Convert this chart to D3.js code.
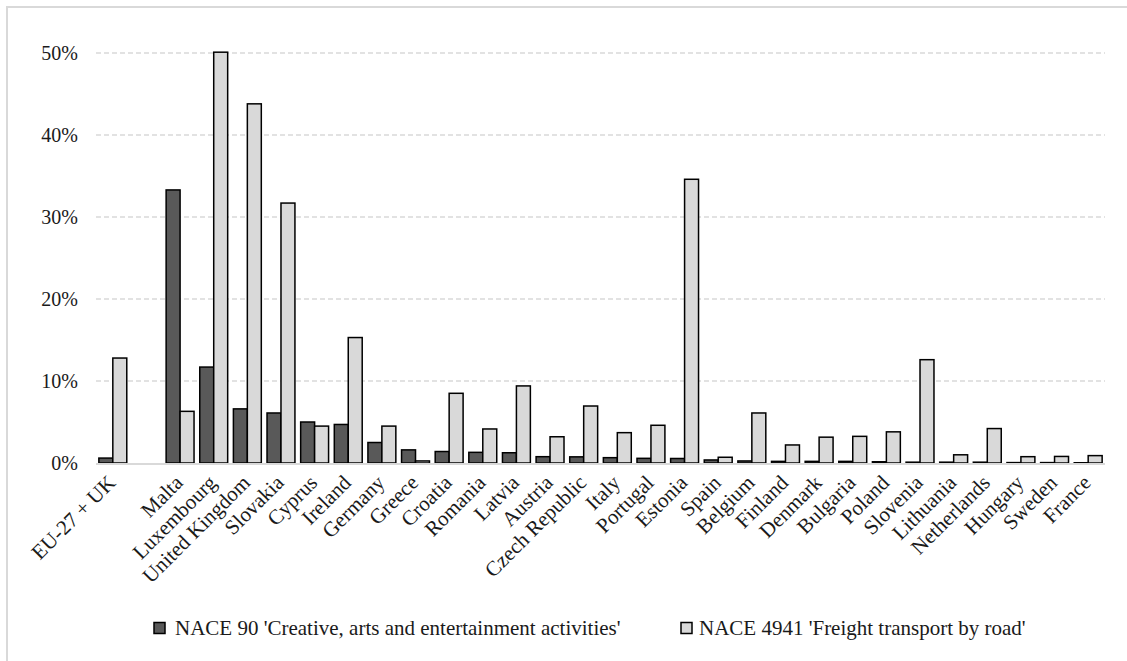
<!DOCTYPE html>
<html>
<head>
<meta charset="utf-8">
<script src="https://cdn.jsdelivr.net/npm/d3@7"></script>
<style>
  body { margin: 0; background: #fff; }
  svg text { font-family: "Liberation Serif", "DejaVu Serif", serif; fill: #1a1a1a; }
</style>
</head>
<body>
<svg id="chart" width="1127" height="661"></svg>
<script>
// categories in chart order ("" is the gap after the EU total)
const categories = ["EU-27 + UK", "", "Malta", "Luxembourg", "United Kingdom", "Slovakia", "Cyprus",
    "Ireland", "Germany", "Greece", "Croatia", "Romania", "Latvia", "Austria", "Czech Republic",
    "Italy", "Portugal", "Estonia", "Spain", "Belgium", "Finland", "Denmark", "Bulgaria", "Poland",
    "Slovenia", "Lithuania", "Netherlands", "Hungary", "Sweden", "France"];

const seriesNames = ["NACE 90 'Creative, arts and entertainment activities'",
    "NACE 4941 'Freight transport by road'"];

// shares, in percent
const creative = [0.6, null, 33.3, 11.7, 6.6, 6.1, 5.0, 4.7, 2.5, 1.6, 1.4, 1.3, 1.25, 0.77, 0.75,
    0.65, 0.57, 0.55, 0.37, 0.25, 0.2, 0.2, 0.2, 0.15, 0.1, 0.1, 0.1, 0.05, 0.05, 0.03];
const freight = [12.8, null, 6.3, 50.1, 43.8, 31.7, 4.5, 15.3, 4.5, 0.25, 8.5, 4.15, 9.4, 3.2, 6.95,
    3.7, 4.6, 34.6, 0.7, 6.1, 2.2, 3.15, 3.25, 3.8, 12.6, 1.0, 4.2, 0.77, 0.8, 0.9];

const yTicks = [0, 10, 20, 30, 40, 50];
const colors = ["#595959", "#d9d9d9"];

const svg = d3.select("#chart");
const margin = { left: 96, right: 22, top: 53, bottom: 198 };
const W = 1127, H = 661;

// frame (only top and left edges are visible in the picture)
svg.append("rect").attr("width", W).attr("height", H).attr("fill", "#fff");
svg.append("path")
    .attr("d", `M7,${H} V7 H${W}`)
    .attr("fill", "none")
    .attr("stroke", "#d9d9d9")
    .attr("stroke-width", 2);

const x0 = d3.scaleBand()
    .domain(categories)
    .range([margin.left, W - margin.right])
    .paddingInner(0.17)
    .paddingOuter(0.085);

const x1 = d3.scaleBand()
    .domain([0, 1])
    .range([0, x0.bandwidth()]);

const y = d3.scaleLinear()
    .domain([0, 50])
    .range([H - margin.bottom, margin.top]);

// gridlines
svg.append("g")
    .selectAll("line")
    .data(yTicks.filter(d => d > 0))
    .join("line")
    .attr("x1", margin.left)
    .attr("x2", W - margin.right)
    .attr("y1", d => y(d))
    .attr("y2", d => y(d))
    .attr("stroke", "#d9d9d9")
    .attr("stroke-width", 1.5)
    .attr("stroke-dasharray", "5,3");

// y axis labels
const yAxis = svg.append("g")
    .attr("transform", `translate(${margin.left - 18},0)`)
    .call(d3.axisLeft(y).tickValues(yTicks).tickSize(0).tickFormat(d => d + "%"));
yAxis.select(".domain").remove();
yAxis.selectAll("text")
    .attr("x", 0)
    .style("font-size", "20px")
    .style("font-family", "Liberation Serif, serif")
    .attr("fill", "#1a1a1a");

// bars
const rows = categories.map((c, i) => ({ c, v: [creative[i], freight[i]] }));
const groups = svg.append("g")
    .selectAll("g")
    .data(rows.filter(r => r.c !== ""))
    .join("g")
    .attr("transform", d => `translate(${x0(d.c)},0)`);

groups.selectAll("rect")
    .data(d => d.v.map((v, k) => ({ k, v })))
    .join("rect")
    .attr("x", d => x1(d.k))
    .attr("width", x1.bandwidth())
    .attr("y", d => y(d.v))
    .attr("height", d => y(0) - y(d.v))
    .attr("fill", d => colors[d.k])
    .attr("stroke", "#000")
    .attr("stroke-width", 1.5);

// baseline
svg.append("line")
    .attr("x1", margin.left)
    .attr("x2", W - margin.right)
    .attr("y1", y(0) + 1)
    .attr("y2", y(0) + 1)
    .attr("stroke", "#d9d9d9")
    .attr("stroke-width", 2);

// category labels, rotated 45 degrees
const xAxis = svg.append("g")
    .attr("transform", `translate(0,${y(0)})`)
    .call(d3.axisBottom(x0).tickSize(0));
xAxis.select(".domain").remove();
xAxis.selectAll("text")
    .style("font-size", "21px")
    .style("font-family", "Liberation Serif, serif")
    .attr("fill", "#1a1a1a")
    .attr("text-anchor", "end")
    .attr("y", 0)
    .attr("dy", 0)
    .attr("transform", "translate(4,21) rotate(-45)");

// legend
const legendPos = [{ box: 154, text: 175 }, { box: 681, text: 699 }];
const legend = svg.append("g").attr("transform", "translate(0,628)");
seriesNames.forEach((name, k) => {
    legend.append("rect")
        .attr("x", legendPos[k].box).attr("y", -5.5)
        .attr("width", 11).attr("height", 11)
        .attr("fill", colors[k])
        .attr("stroke", "#000")
        .attr("stroke-width", 1.5);
    legend.append("text")
        .attr("x", legendPos[k].text)
        .attr("y", 0)
        .attr("dy", "0.35em")
        .style("font-size", "21px")
        .text(name);
});
</script>
</body>
</html>
